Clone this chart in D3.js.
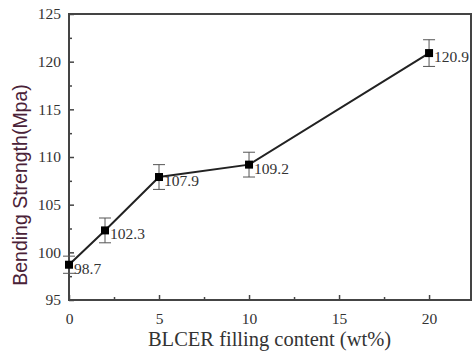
<!DOCTYPE html>
<html><head><meta charset="utf-8">
<script src="https://cdn.jsdelivr.net/npm/d3@7/dist/d3.min.js"></script>
<style>body{margin:0;background:#fff}</style>
</head><body>
<svg id="c" width="473" height="353"></svg>
<script>
const fillContent = [0, 2, 5, 10, 20];
const strength = [98.7, 102.3, 107.9, 109.2, 120.9];
const errors = [0.9, 1.3, 1.3, 1.3, 1.4];
const labels = ["98.7", "102.3", "107.9", "109.2", "120.9"];
const xTicks = [0, 5, 10, 15, 20];
const yTicks = [95, 100, 105, 110, 115, 120, 125];

const svg = d3.select("#c");
const m = {l: 69, t: 14, r: 471, b: 300};
const x = d3.scaleLinear().domain([0, 22.33]).range([m.l, m.r]);
const y = d3.scaleLinear().domain([95, 125]).range([m.b, m.t]);
const axisColor = "#444";

// frame
svg.append("rect").attr("x", m.l).attr("y", m.t).attr("width", m.r - m.l).attr("height", m.b - m.t)
  .attr("fill", "none").attr("stroke", axisColor).attr("stroke-width", 2);

// x axis
const xa = svg.append("g").attr("transform", `translate(0,${m.b})`)
  .call(d3.axisBottom(x).tickValues(xTicks).tickSize(-5).tickPadding(10).tickFormat(d3.format("d")));
xa.select(".domain").remove();
xa.selectAll("line").attr("stroke", axisColor).attr("stroke-width", 1.5);
xa.selectAll("text").attr("font-family", "Liberation Serif, serif").attr("font-size", 15.5).attr("fill", "#333").attr("dy", "0.9em");
svg.append("g").attr("transform", `translate(0,${m.b})`)
  .call(d3.axisBottom(x).tickValues([2.5, 7.5, 12.5, 17.5]).tickSize(-3).tickFormat(""))
  .call(g => { g.select(".domain").remove(); g.selectAll("line").attr("stroke", axisColor).attr("stroke-width", 1.5); });

// y axis
const ya = svg.append("g").attr("transform", `translate(${m.l},0)`)
  .call(d3.axisLeft(y).tickValues(yTicks).tickSize(-5).tickPadding(8).tickFormat(d3.format("d")));
ya.select(".domain").remove();
ya.selectAll("line").attr("stroke", axisColor).attr("stroke-width", 1.5);
ya.selectAll("text").attr("font-family", "Liberation Serif, serif").attr("font-size", 15.5).attr("fill", "#333");
svg.append("g").attr("transform", `translate(${m.l},0)`)
  .call(d3.axisLeft(y).tickValues([97.5, 102.5, 107.5, 112.5, 117.5, 122.5]).tickSize(-3).tickFormat(""))
  .call(g => { g.select(".domain").remove(); g.selectAll("line").attr("stroke", axisColor).attr("stroke-width", 1.5); });

// axis titles
svg.append("text").attr("x", 269.5).attr("y", 346).attr("text-anchor", "middle")
  .attr("font-family", "Liberation Serif, serif").attr("font-size", 20.5).attr("fill", "#333")
  .text("BLCER filling content (wt%)");
svg.append("text").attr("transform", `translate(27,185) rotate(-90)`).attr("text-anchor", "middle")
  .attr("font-family", "Liberation Sans, Arial, sans-serif").attr("font-size", 19.5).attr("fill", "#4a2238")
  .text("Bending Strength(Mpa)");

const data = fillContent.map((d, i) => ({x: d, y: strength[i], e: errors[i], l: labels[i]}));

// error bars
const eb = svg.append("g").attr("stroke", "#555").attr("stroke-width", 1);
data.forEach(d => {
  eb.append("line").attr("x1", x(d.x)).attr("x2", x(d.x)).attr("y1", y(d.y - d.e)).attr("y2", y(d.y + d.e));
  [d.y - d.e, d.y + d.e].forEach(v => eb.append("line").attr("x1", x(d.x) - 6).attr("x2", x(d.x) + 6).attr("y1", y(v)).attr("y2", y(v)));
});

// line
svg.append("path").datum(data).attr("fill", "none").attr("stroke", "#222").attr("stroke-width", 2)
  .attr("d", d3.line().x(d => x(d.x)).y(d => y(d.y)));

// markers
svg.selectAll(".mk").data(data).enter().append("rect")
  .attr("x", d => x(d.x) - 4).attr("y", d => y(d.y) - 4).attr("width", 8).attr("height", 8).attr("fill", "#000");

// labels
svg.selectAll(".lb").data(data).enter().append("text")
  .attr("x", d => x(d.x) + 5).attr("y", d => y(d.y) + 9)
  .attr("font-family", "Liberation Serif, serif").attr("font-size", 15.5).attr("fill", "#333")
  .text(d => d.l);
</script>
</body></html>
